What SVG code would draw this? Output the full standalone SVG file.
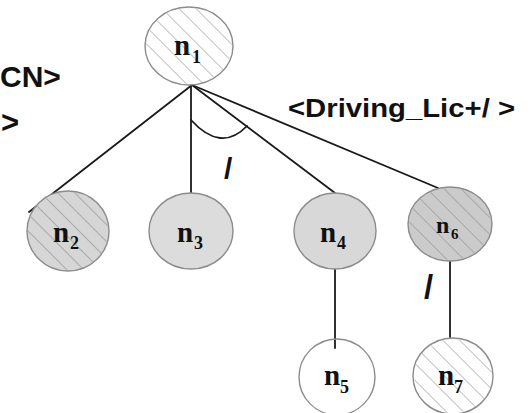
<svg xmlns="http://www.w3.org/2000/svg" width="529" height="413" viewBox="0 0 529 413">
  <defs>
    <pattern id="hatch" patternUnits="userSpaceOnUse" width="12" height="12" patternTransform="rotate(-45)">
      <line x1="0" y1="0" x2="0" y2="12" stroke="#8a8a8a" stroke-width="1.1"/>
    </pattern>
  </defs>
  <style>
    .edge { stroke: #1a1a1a; stroke-width: 1.8; fill: none; stroke-linecap: round; }
    .node { stroke: #8c8c8c; stroke-width: 1.4; }
    .hatch { fill: url(#hatch); stroke: none; }
    .lbl { font-family: "Liberation Serif", "Times New Roman", serif; font-weight: bold; fill: #111; }
    .main { font-size: 29px; }
    .sub { font-size: 18px; }
    .tag { font-family: "Liberation Sans", Arial, sans-serif; font-weight: bold; fill: #111; }
  </style>
  <rect width="529" height="413" fill="#ffffff"/>

  <!-- labels at the left edge -->
  <text class="tag" x="0" y="87" font-size="30">CN&gt;</text>
  <text class="tag" x="1" y="133" font-size="31">&gt;</text>

  <!-- connectors -->
  <g id="connectors">
    <line class="edge" x1="192" y1="85" x2="29" y2="212"/>
    <line class="edge" x1="191" y1="85" x2="191" y2="193"/>
    <line class="edge" x1="192" y1="85" x2="335" y2="193"/>
    <line class="edge" x1="192" y1="85" x2="438" y2="188"/>
    <path class="edge" d="M191,120 Q221,153 247,126"/>
    <line class="edge" x1="335" y1="269" x2="335" y2="348"/>
    <line class="edge" x1="450" y1="261" x2="450" y2="337"/>
  </g>

  <!-- edge labels -->
  <text class="tag" x="288" y="117" font-size="25" textLength="227" lengthAdjust="spacingAndGlyphs">&lt;Driving_Lic+/ &gt;</text>
  <text class="tag" x="224" y="179" font-size="30">/</text>
  <text class="tag" x="424" y="298" font-size="33">/</text>

  <g id="n1">
    <ellipse class="node" cx="189" cy="46" rx="44" ry="39" fill="#ffffff"/>
    <ellipse class="hatch" cx="189" cy="46" rx="43" ry="38"/>
    <text class="lbl main" x="174" y="55">n</text>
    <text class="lbl sub" x="192" y="63">1</text>
  </g>

  <g id="n2">
    <ellipse class="node" cx="68" cy="231" rx="41" ry="40" fill="#d6d6d6"/>
    <ellipse class="hatch" cx="68" cy="231" rx="40" ry="39"/>
    <text class="lbl main" x="53" y="242">n</text>
    <text class="lbl sub" x="70" y="249">2</text>
  </g>

  <g id="n3">
    <ellipse class="node" cx="191" cy="231" rx="42" ry="38" fill="#dcdcdc"/>
    <text class="lbl main" x="177" y="242">n</text>
    <text class="lbl sub" x="194" y="249">3</text>
  </g>

  <g id="n4">
    <ellipse class="node" cx="335" cy="231" rx="41" ry="38" fill="#d8d8d8"/>
    <text class="lbl main" x="320" y="242">n</text>
    <text class="lbl sub" x="337" y="249">4</text>
  </g>

  <g id="n5">
    <ellipse class="node" cx="337" cy="377" rx="38" ry="38" fill="none"/>
    <text class="lbl main" x="324" y="385">n</text>
    <text class="lbl sub" x="340" y="393">5</text>
  </g>

  <g id="n6">
    <ellipse class="node" cx="450" cy="224" rx="42" ry="37" fill="#cbcbcb"/>
    <ellipse class="hatch" cx="450" cy="224" rx="41" ry="36"/>
    <text class="lbl" font-size="24" x="436" y="233">n</text>
    <text class="lbl" font-size="15" x="451" y="239">6</text>
  </g>

  <g id="n7">
    <ellipse class="node" cx="453" cy="376" rx="40" ry="38" fill="#ffffff"/>
    <ellipse class="hatch" cx="453" cy="376" rx="39" ry="37"/>
    <text class="lbl main" x="438" y="385">n</text>
    <text class="lbl sub" x="454" y="393">7</text>
  </g>
</svg>
